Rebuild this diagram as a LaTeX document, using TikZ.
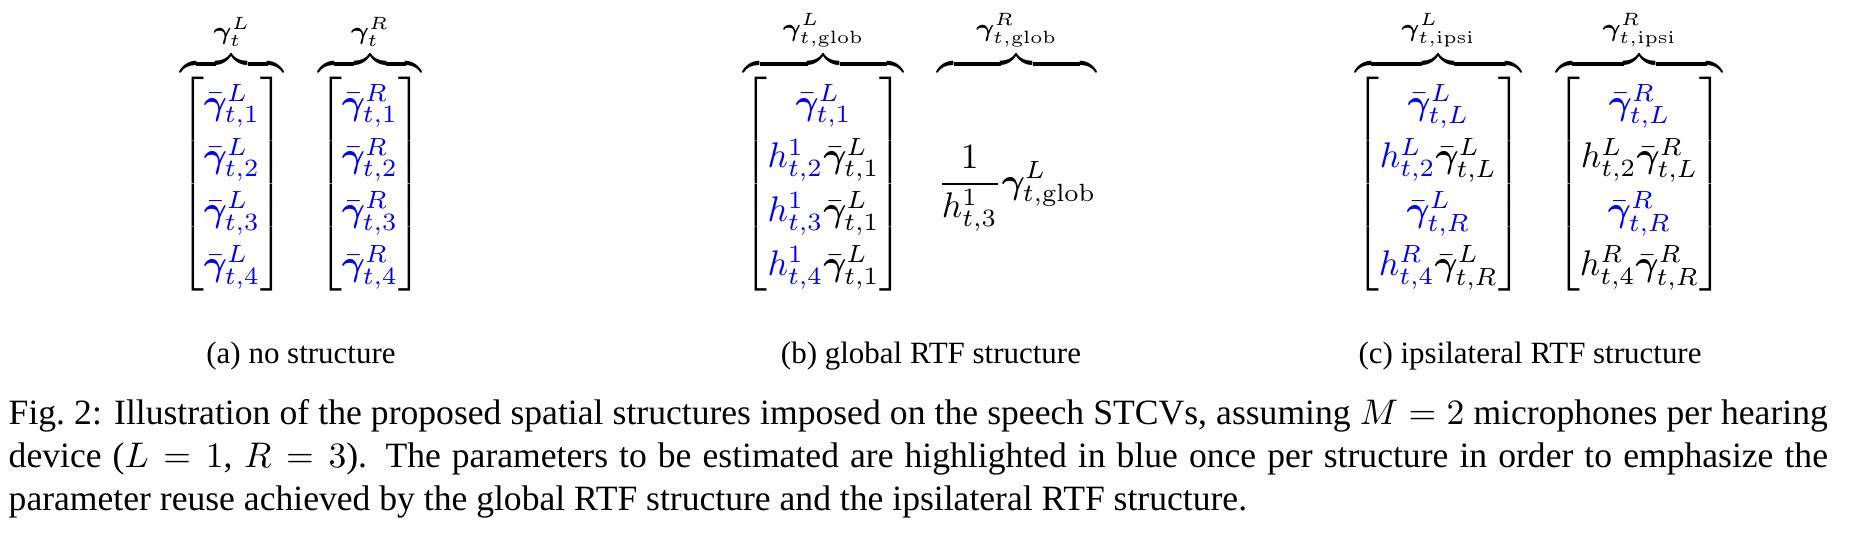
\documentclass[tikz,border=0pt]{standalone}
\usepackage{amsmath}
\usepackage{bm}
\usepackage[no-math]{fontspec}
\setmainfont{Liberation Serif}
\renewcommand{\arraystretch}{1.26}
\newcommand{\gambar}[2]{\bar{\bm{\gamma}}^{#1}_{t,#2}}
\newcommand{\hrtf}[2]{h^{#1}_{t,#2}}
\newcommand{\est}[1]{\textcolor{blue}{#1}}
\tikzset{
    panel/.style =  {inner sep=0pt,
                    anchor=base},
    subcap/.style = {inner sep=0pt,
                    anchor=base,
                    font=\fontsize{8.7}{11}\selectfont},
    figcap/.style = {inner sep=0pt,
                    anchor=north west,
                    text width=511pt,
                    align=justify,
                    font=\fontsize{10}{12}\selectfont}}

\begin{document}
\begin{tikzpicture}[x=0.2809pt,y=-0.2809pt]
                \useasboundingbox (0,0) rectangle (1854,538);
                % (a) no structure
                \node[panel]    (A) at (301,193)    {$\displaystyle
                    \overbrace{\begin{bmatrix} \est{\gambar{L}{1}}\\ \est{\gambar{L}{2}}\\ \est{\gambar{L}{3}}\\ \est{\gambar{L}{4}} \end{bmatrix}}^{\bm{\gamma}_t^L}
                    \hspace{8pt}
                    \overbrace{\begin{bmatrix} \est{\gambar{R}{1}}\\ \est{\gambar{R}{2}}\\ \est{\gambar{R}{3}}\\ \est{\gambar{R}{4}} \end{bmatrix}}^{\bm{\gamma}_t^R}$};
                % (b) global RTF structure
                \node[panel]    (B) at (920,193)    {$\displaystyle
                    \overbrace{\begin{bmatrix} \est{\gambar{L}{1}}\\ \est{\hrtf{1}{2}}\gambar{L}{1}\\ \est{\hrtf{1}{3}}\gambar{L}{1}\\ \est{\hrtf{1}{4}}\gambar{L}{1} \end{bmatrix}}^{\bm{\gamma}^L_{t,\mathrm{glob}}}
                    \hspace{8pt}
                    \overbrace{\vphantom{\begin{bmatrix} a\\ a\\ a\\ a \end{bmatrix}}\frac{1}{\hrtf{1}{3}}\bm{\gamma}^L_{t,\mathrm{glob}}}^{\bm{\gamma}^R_{t,\mathrm{glob}}}$};
                % (c) ipsilateral RTF structure
                \node[panel]    (C) at (1539,193)   {$\displaystyle
                    \overbrace{\begin{bmatrix} \est{\gambar{L}{L}}\\ \est{\hrtf{L}{2}}\gambar{L}{L}\\ \est{\gambar{L}{R}}\\ \est{\hrtf{R}{4}}\gambar{L}{R} \end{bmatrix}}^{\bm{\gamma}^L_{t,\mathrm{ipsi}}}
                    \hspace{8pt}
                    \overbrace{\begin{bmatrix} \est{\gambar{R}{L}}\\ \hrtf{L}{2}\gambar{R}{L}\\ \est{\gambar{R}{R}}\\ \hrtf{R}{4}\gambar{R}{R} \end{bmatrix}}^{\bm{\gamma}^R_{t,\mathrm{ipsi}}}$};
                \node[subcap]   (Acap) at (301,363)   {(a) no structure};
                \node[subcap]   (Bcap) at (931,363)   {(b) global RTF structure};
                \node[subcap]   (Ccap) at (1530,363)  {(c) ipsilateral RTF structure};
                \node[figcap]   (cap) at (8,399)      {Fig.~2: Illustration of the proposed spatial structures imposed on the speech STCVs, assuming $M=2$ microphones per hearing device ($L=1$, $R=3$). The parameters to be estimated are highlighted in blue once per structure in order to emphasize the parameter reuse achieved by the global RTF structure and the ipsilateral RTF structure.};
        \end{tikzpicture}
\end{document}
